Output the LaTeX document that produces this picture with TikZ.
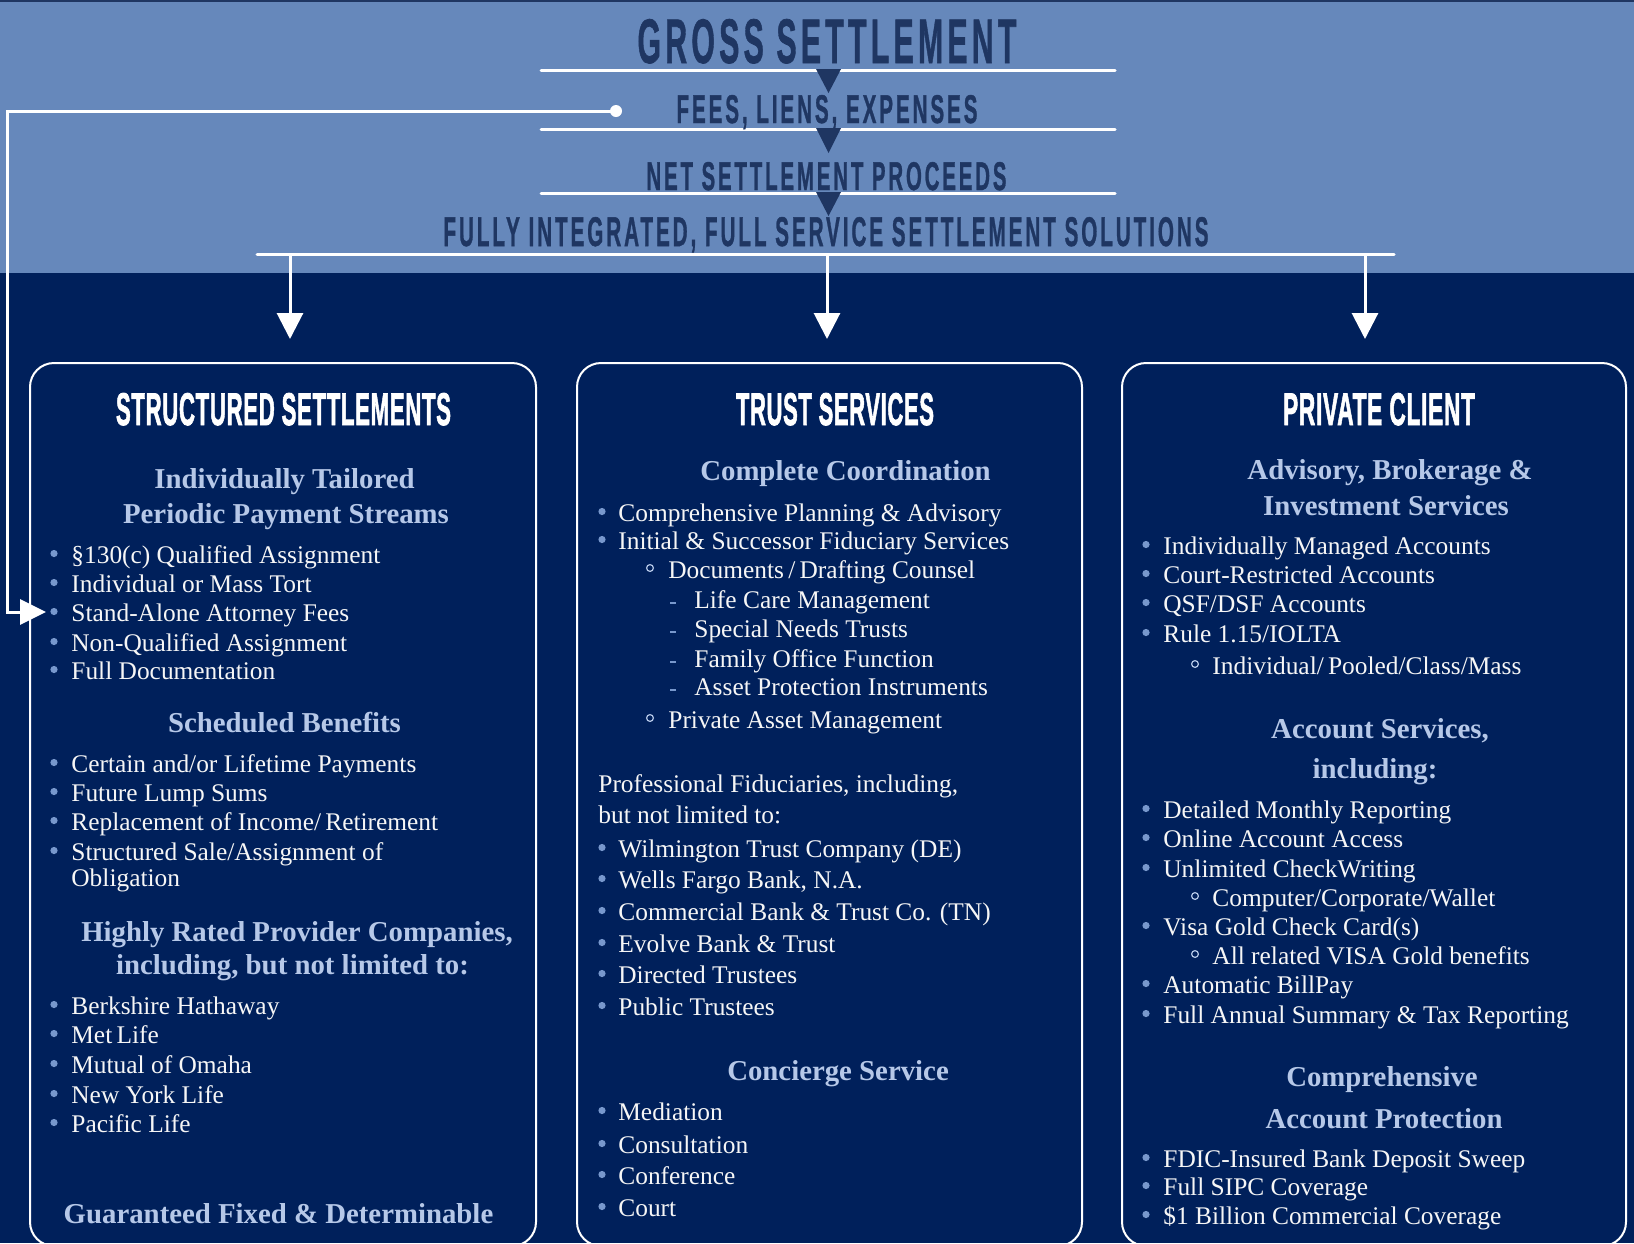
\documentclass[tikz,border=0pt]{standalone}
\usepackage{graphicx}
\usepackage{fontspec}
\setmainfont{Liberation Serif}
\newfontfamily\bandfont[LetterSpace=14,FakeBold=1.2]{Liberation Sans Bold}
\newfontfamily\boxfont[LetterSpace=3,FakeBold=2]{Liberation Sans Bold}
\usetikzlibrary{arrows.meta}
\definecolor{band}{RGB}{102,136,187}
\definecolor{navy}{RGB}{0,32,91}
\definecolor{ink}{RGB}{31,54,98}
\definecolor{headc}{RGB}{182,200,232}
\definecolor{dotc}{RGB}{120,152,205}
\definecolor{bodyc}{RGB}{246,246,246}
\newcommand\bcond[3]{\resizebox{#1}{#2}{\bandfont #3}}
\newcommand\tcond[3]{\resizebox{#1}{#2}{\boxfont #3}}
\newcommand\itemdot[5]{\node[bdot] (#1d) at (#2,#4-9.5) {};\node[txt] (#1) at (#3,#4) {#5};}
\newcommand\itemcirc[5]{\node[bcirc] (#1d) at (#2,#4-10) {};\node[txt] (#1) at (#3,#4) {#5};}
\newcommand\itemdash[5]{\node[bdash] (#1d) at (#2,#4-5) {};\node[txt] (#1) at (#3,#4) {#5};}
\begin{document}
\begin{tikzpicture}[x=0.5pt,y=-0.5pt,
  bandline/.style={draw=white,line width=1.5pt,line cap=round},
  conn/.style={draw=white,line width=1.5pt},
  tipd/.style={-{Triangle[width=13pt,length=13pt]}},
  panel/.style={draw=white,line width=1pt,rounded corners=12pt,inner sep=0pt},
  bandtxt/.style={text=ink,inner sep=0pt,anchor=base},
  ttl/.style={text=white,inner sep=0pt,anchor=base},
  txt/.style={text=bodyc,inner sep=0pt,anchor=base west,font=\fontsize{12.7}{15}\selectfont},
  hd/.style={text=headc,inner sep=0pt,anchor=base,font=\bfseries\fontsize{14.4}{17}\selectfont},
  hdl/.style={text=bodyc,inner sep=0pt,anchor=base west,font=\fontsize{12.7}{15}\selectfont},
  bdot/.style={circle,fill=dotc,inner sep=0pt,minimum size=3.6pt},
  bcirc/.style={circle,draw=headc,line width=0.6pt,inner sep=0pt,minimum size=3.4pt},
  bdash/.style={rectangle,fill=dotc,inner sep=0pt,minimum width=3pt,minimum height=0.6pt},
  tri/.style={fill=ink}]
\useasboundingbox (0,0) rectangle (1634,1243);
\clip (0,0) rectangle (1634,1243);
% background
\fill[navy] (0,0) rectangle (1634,1243);
\fill[band] (0,0) rectangle (1634,273);
\fill[ink] (0,0) rectangle (1634,2);
% band lines
\coordinate (l1a) at (541,70);  \coordinate (l1b) at (1115,70);
\coordinate (l2a) at (541,129); \coordinate (l2b) at (1115,129);
\coordinate (l3a) at (541,193); \coordinate (l3b) at (1115,193);
\coordinate (l4a) at (257,254); \coordinate (l4b) at (1394,254);
\draw[bandline] (l1a) -- (l1b);
\draw[bandline] (l2a) -- (l2b);
\draw[bandline] (l3a) -- (l3b);
\draw[bandline] (l4a) -- (l4b);
% band texts
\node[bandtxt] (gross) at (827,63) {\bcond{189.5pt}{22pt}{GROSS SETTLEMENT}};
\node[bandtxt] (fees) at (827,123) {\bcond{150.5pt}{14pt}{FEES, LIENS, EXPENSES}};
\node[bandtxt] (net) at (826.5,190) {\bcond{180pt}{14pt}{NET SETTLEMENT PROCEEDS}};
\node[bandtxt] (fully) at (826,246) {\bcond{382.5pt}{14.5pt}{FULLY INTEGRATED, FULL SERVICE SETTLEMENT SOLUTIONS}};
% flow triangles
\fill[tri] (816,69) -- (841,69) -- (828.5,93) -- cycle;
\fill[tri] (816,128) -- (841,128) -- (828.5,153) -- cycle;
\fill[tri] (816,192) -- (841,192) -- (828.5,216) -- cycle;
% down arrows
\coordinate (a1s) at (290,254);  \coordinate (a1e) at (290,339);
\coordinate (a2s) at (827,254);  \coordinate (a2e) at (827,339);
\coordinate (a3s) at (1365,254); \coordinate (a3e) at (1365,339);
\draw[conn,tipd] (a1s) -- (a1e);
\draw[conn,tipd] (a2s) -- (a2e);
\draw[conn,tipd] (a3s) -- (a3e);
% fees connector
\node[circle,fill=white,inner sep=0pt,minimum size=6pt] (fdot) at (616,111) {};
\coordinate (k1) at (7,111);
\coordinate (k2) at (7,612);
\coordinate (sain) at (46,612);
\draw[conn,-{Triangle[width=12.5pt,length=13pt]}] (fdot.center) -- (k1) -- (k2) -- (sain);
% panels
\node[panel,minimum width=253pt,minimum height=441.5pt] (ss) at (283,804.5) {};
\node[panel,minimum width=252.5pt,minimum height=441.5pt] (ts) at (829.5,804.5) {};
\node[panel,minimum width=252pt,minimum height=441.5pt] (pc) at (1374,804.5) {};
% panel titles
\node[ttl] (sst) at (283.5,425) {\tcond{167.5pt}{16pt}{STRUCTURED SETTLEMENTS}};
\node[ttl] (tst) at (835,425) {\tcond{99pt}{16pt}{TRUST SERVICES}};
\node[ttl] (pct) at (1379,425) {\tcond{96pt}{16pt}{PRIVATE CLIENT}};
% ---- left column
\node[hd] (lh1) at (284.5,488) {Individually Tailored};
\node[hd] (lh2) at (286,523) {Periodic Payment Streams};
\itemdot{L1}{54}{71}{563}{§130(c) Qualified Assignment}
\itemdot{L2}{54}{71}{592}{Individual or Mass Tort}
\itemdot{L3}{54}{71}{621}{Stand-Alone Attorney Fees}
\itemdot{L4}{54}{71}{651}{Non-Qualified Assignment}
\itemdot{L5}{54}{71}{679}{Full Documentation}
\node[hd] (lh3) at (284.5,732) {Scheduled Benefits};
\itemdot{L6}{54}{71}{772}{Certain and/or Lifetime Payments}
\itemdot{L7}{54}{71}{801}{Future Lump Sums}
\itemdot{L8}{54}{71}{830}{Replacement of Income/\,Retirement}
\itemdot{L9}{54}{71}{860}{Structured Sale/Assignment of}
\node[txt] (L9b) at (71,886) {Obligation};
\node[hd] (lh4) at (297,941) {Highly Rated Provider Companies,};
\node[hd] (lh5) at (292.5,974) {including, but not limited to:};
\itemdot{L10}{54}{71}{1014}{Berkshire Hathaway}
\itemdot{L11}{54}{71}{1043}{Met\,Life}
\itemdot{L12}{54}{71}{1073}{Mutual of Omaha}
\itemdot{L13}{54}{71}{1103}{New York Life}
\itemdot{L14}{54}{71}{1132}{Pacific Life}
\node[hd] (lh6) at (278.5,1223) {Guaranteed Fixed \& Determinable};
% ---- middle column
\node[hd] (mh1) at (845.5,480) {Complete Coordination};
\itemdot{M1}{602}{618}{521}{Comprehensive Planning \& Advisory}
\itemdot{M2}{602}{618}{549}{Initial \& Successor Fiduciary Services}
\itemcirc{M3}{650}{668}{578}{Documents\,/\,Drafting Counsel}
\itemdash{M4}{673}{694}{608}{Life Care Management}
\itemdash{M5}{673}{694}{637}{Special Needs Trusts}
\itemdash{M6}{673}{694}{667}{Family Office Function}
\itemdash{M7}{673}{694}{695}{Asset Protection Instruments}
\itemcirc{M8}{650}{668}{728}{Private Asset Management}
\node[hdl] (mp1) at (598,792) {Professional Fiduciaries, including,};
\node[hdl] (mp2) at (598,823) {but not limited to:};
\itemdot{M9}{602}{618}{857}{Wilmington Trust Company (DE)}
\itemdot{M10}{602}{618}{888}{Wells Fargo Bank, N.A.}
\itemdot{M11}{602}{618}{920}{Commercial Bank \& Trust Co. (TN)}
\itemdot{M12}{602}{618}{952}{Evolve Bank \& Trust}
\itemdot{M13}{602}{618}{983}{Directed Trustees}
\itemdot{M14}{602}{618}{1015}{Public Trustees}
\node[hd] (mh2) at (838,1080) {Concierge Service};
\itemdot{M15}{602}{618}{1120}{Mediation}
\itemdot{M16}{602}{618}{1153}{Consultation}
\itemdot{M17}{602}{618}{1184}{Conference}
\itemdot{M18}{602}{618}{1216}{Court}
% ---- right column
\node[hd] (rh1) at (1390,479) {Advisory, Brokerage \&};
\node[hd] (rh2) at (1386,515) {Investment Services};
\itemdot{R1}{1146}{1163}{554}{Individually Managed Accounts}
\itemdot{R2}{1146}{1163}{583}{Court-Restricted Accounts}
\itemdot{R3}{1146}{1163}{612}{QSF/DSF Accounts}
\itemdot{R4}{1146}{1163}{642}{Rule 1.15/IOLTA}
\itemcirc{R5}{1195}{1212}{674}{Individual/\,Pooled/Class/Mass}
\node[hd] (rh3) at (1380,738) {Account Services,};
\node[hd] (rh4) at (1375,778) {including:};
\itemdot{R6}{1146}{1163}{818}{Detailed Monthly Reporting}
\itemdot{R7}{1146}{1163}{847}{Online Account Access}
\itemdot{R8}{1146}{1163}{877}{Unlimited CheckWriting}
\itemcirc{R9}{1195}{1212}{906}{Computer/Corporate/Wallet}
\itemdot{R10}{1146}{1163}{935}{Visa Gold Check Card(s)}
\itemcirc{R11}{1195}{1212}{964}{All related VISA Gold benefits}
\itemdot{R12}{1146}{1163}{993}{Automatic BillPay}
\itemdot{R13}{1146}{1163}{1023}{Full Annual Summary \& Tax Reporting}
\node[hd] (rh5) at (1382,1086) {Comprehensive};
\node[hd] (rh6) at (1384,1128) {Account Protection};
\itemdot{R14}{1146}{1163}{1167}{FDIC-Insured Bank Deposit Sweep}
\itemdot{R15}{1146}{1163}{1195}{Full SIPC Coverage}
\itemdot{R16}{1146}{1163}{1224}{\$1 Billion Commercial Coverage}
\end{tikzpicture}
\end{document}
